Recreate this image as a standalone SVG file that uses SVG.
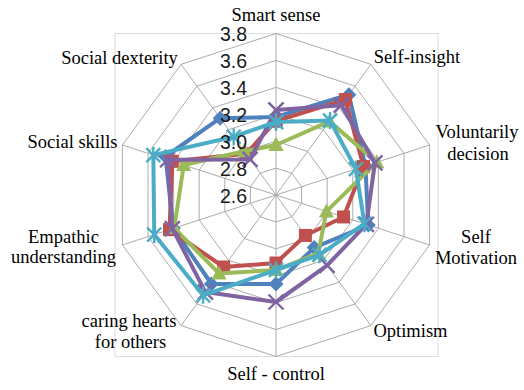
<svg xmlns="http://www.w3.org/2000/svg" width="524" height="390" viewBox="0 0 524 390">
<style>
.grid{fill:none;stroke:#ABABAB;stroke-width:1}
.spoke{stroke:#ABABAB;stroke-width:1}
.ser{fill:none;stroke-width:4;stroke-linejoin:round}
.ax{font-family:"Liberation Serif","Times New Roman",serif;font-size:18.5px;fill:#000;text-anchor:middle}
.tk{font-family:"Liberation Sans",Arial,sans-serif;font-size:19.5px;fill:#1a1a1a;text-anchor:end}
</style>
<defs>
<marker id="mDia" markerWidth="1" markerHeight="1" refX="0" refY="0" markerUnits="userSpaceOnUse" overflow="visible"><path d="M0 -7.5 L7.5 0 L0 7.5 L-7.5 0Z" fill="#4F81BD"/></marker>
<marker id="mSq" markerWidth="1" markerHeight="1" refX="0" refY="0" markerUnits="userSpaceOnUse" overflow="visible"><rect x="-6.5" y="-6.5" width="13" height="13" fill="#C0504D"/></marker>
<marker id="mTri" markerWidth="1" markerHeight="1" refX="0" refY="0" markerUnits="userSpaceOnUse" overflow="visible"><path d="M0 -8 L7.5 6 L-7.5 6Z" fill="#9BBB59"/></marker>
<marker id="mX" markerWidth="1" markerHeight="1" refX="0" refY="0" markerUnits="userSpaceOnUse" overflow="visible"><path d="M-7.5 -7.5 L7.5 7.5 M7.5 -7.5 L-7.5 7.5" stroke="#8064A2" stroke-width="2.4" fill="none"/></marker>
<marker id="mStar" markerWidth="1" markerHeight="1" refX="0" refY="0" markerUnits="userSpaceOnUse" overflow="visible"><path d="M-7 -7 L7 7 M7 -7 L-7 7 M0 -8.5 L0 8.5" stroke="#4BACC6" stroke-width="2.4" fill="none"/></marker>
</defs>
<rect x="0" y="0" width="524" height="390" fill="#fff"/>
<rect x="115" y="33.5" width="323" height="323" fill="none" stroke="#DCDCDC" stroke-width="1"/>
<g id="grid">
<polygon class="grid" points="276,168.08 291.82,173.22 301.60,186.68 301.60,203.32 291.82,216.78 276,221.92 260.18,216.78 250.40,203.32 250.40,186.68 260.18,173.22"/>
<polygon class="grid" points="276,141.17 307.64,151.45 327.20,178.36 327.20,211.64 307.64,238.55 276,248.83 244.36,238.55 224.80,211.64 224.80,178.36 244.36,151.45"/>
<polygon class="grid" points="276,114.25 323.46,129.67 352.80,170.05 352.80,219.95 323.46,260.33 276,275.75 228.54,260.33 199.20,219.95 199.20,170.05 228.54,129.67"/>
<polygon class="grid" points="276,87.33 339.28,107.90 378.40,161.73 378.40,228.27 339.28,282.10 276,302.67 212.72,282.10 173.60,228.27 173.60,161.73 212.72,107.90"/>
<polygon class="grid" points="276,60.42 355.11,86.12 404.00,153.41 404.00,236.59 355.11,303.88 276,329.58 196.89,303.88 148.00,236.59 148.00,153.41 196.89,86.12"/>
<polygon class="grid" points="276,33.5 370.93,64.34 429.60,145.09 429.60,244.91 370.93,325.66 276,356.5 181.07,325.66 122.40,244.91 122.40,145.09 181.07,64.34"/>
<path class="spoke" d="M276 195 L276 33.5 M276 195 L370.93 64.34 M276 195 L429.60 145.09 M276 195 L429.60 244.91 M276 195 L370.93 325.66 M276 195 L276 356.5 M276 195 L181.07 325.66 M276 195 L122.40 244.91 M276 195 L122.40 145.09 M276 195 L181.07 64.34"/>
</g>
<g id="connectors">
<polygon id="series1" class="ser" stroke="#4F81BD" marker-start="url(#mDia)" marker-mid="url(#mDia)" marker-end="url(#mDia)" points="276,117 348.89,94.68 365.40,165.95 368.26,224.97 314.21,247.59 276,284 211.34,283.99 173.28,228.37 165.5,156.5 220.16,118.14"/>
<polygon id="series2" class="ser" stroke="#C0504D" marker-start="url(#mSq)" marker-mid="url(#mSq)" marker-end="url(#mSq)" points="276,121 345.36,99.54 363.50,166.57 343.53,216.94 305.39,235.45 276,263 223.69,267.00 169.48,229.61 172.33,161.32 246.02,153.74"/>
<polygon id="series3" class="ser" stroke="#9BBB59" marker-start="url(#mTri)" marker-mid="url(#mTri)" marker-end="url(#mTri)" points="276,145 329.49,121.38 376.81,162.24 326.41,211.38 318.32,253.25 276,270 218.98,273.47 174.23,228.06 183.74,165.03 244.26,151.31"/>
<polygon id="series4" class="ser" stroke="#8064A2" marker-start="url(#mX)" marker-mid="url(#mX)" marker-end="url(#mX)" points="276,110 341.25,105.20 374.91,162.86 366.35,224.36 327.14,265.38 276,302 205.46,292.08 172.33,228.68 167.58,159.77 250.14,159.40"/>
<polygon id="series5" class="ser" stroke="#4BACC6" marker-start="url(#mStar)" marker-mid="url(#mStar)" marker-end="url(#mStar)" points="276,122 330.08,120.57 355.89,169.04 364.45,223.74 319.50,254.87 276,270 203.11,295.32 154.26,234.55 153.31,155.14 233.68,136.75"/>
</g>
<g id="ticks">
<text class="tk" x="247" y="41">3.8</text>
<text class="tk" x="247" y="68">3.6</text>
<text class="tk" x="247" y="95">3.4</text>
<text class="tk" x="247" y="122">3.2</text>
<text class="tk" x="247" y="149">3.0</text>
<text class="tk" x="247" y="176">2.8</text>
<text class="tk" x="247" y="203">2.6</text>
</g>
<g id="labels">
<g id="n-smart"><text class="ax" x="276" y="21">Smart sense</text></g>
<g id="n-insight"><text class="ax" x="417" y="63">Self-insight</text></g>
<g id="n-volunt"><text class="ax" x="477" y="138">Voluntarily</text><text class="ax" x="478" y="159.5">decision</text></g>
<g id="n-motiv"><text class="ax" x="476" y="243">Self</text><text class="ax" x="476" y="263.5">Motivation</text></g>
<g id="n-optim"><text class="ax" x="410.5" y="336.5">Optimism</text></g>
<g id="n-control"><text class="ax" x="276" y="380">Self - control</text></g>
<g id="n-caring"><text class="ax" x="129" y="327">caring hearts</text><text class="ax" x="130.5" y="347.5">for others</text></g>
<g id="n-empathic"><text class="ax" x="63.5" y="242.5">Empathic</text><text class="ax" x="63.5" y="263">understanding</text></g>
<g id="n-skills"><text class="ax" x="72.5" y="148">Social skills</text></g>
<g id="n-dexterity"><text class="ax" x="119.5" y="64">Social dexterity</text></g>
</g>
</svg>
